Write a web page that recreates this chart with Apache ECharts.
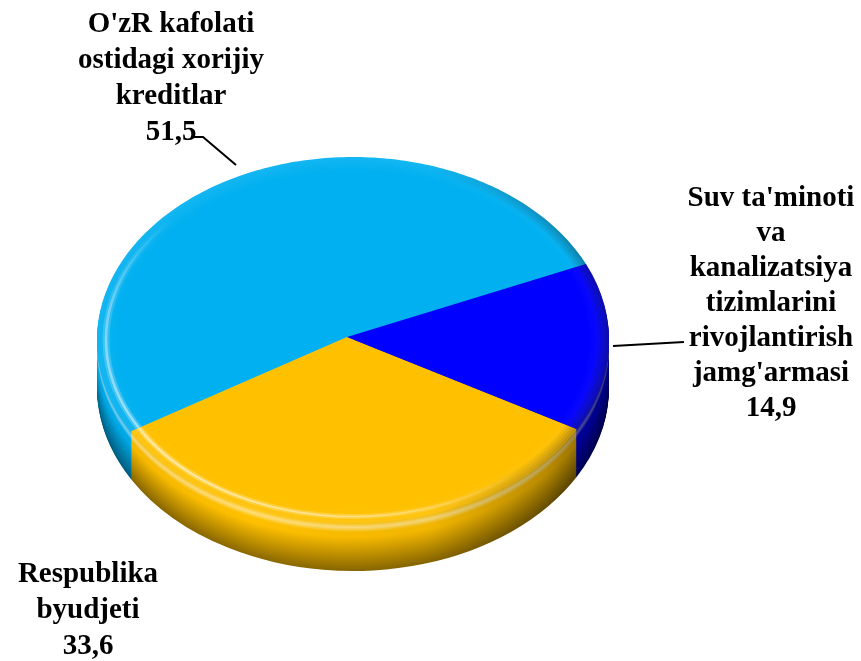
<!DOCTYPE html>
<html>
<head>
<meta charset="utf-8">
<script src="https://cdn.jsdelivr.net/npm/echarts@6/dist/echarts.min.js"></script>
<style>
html, body { margin: 0; padding: 0; background: #fff; }
#chart { width: 861px; height: 661px; }
</style>
</head>
<body>
<div id="chart"></div>
<script>
// slices, counter-clockwise from startAngle
const names = [
    "O'zR kafolati\nostidagi xorijiy\nkreditlar",
    "Respublika\nbyudjeti",
    "Suv ta'minoti\nva\nkanalizatsiya\ntizimlarini\nrivojlantirish\njamg'armasi"
];
const values = [51.5, 33.6, 14.9];
const colors = ['#00B0F0', '#FFC000', '#0000FF'];

// tilted pie: top face ellipse + extruded side
const cx = 353, cy = 340, rx = 256, ry = 183, depth = 48;
const apex = [347, 337];   // where the slices meet (perspective puts it off centre)
const startAngle = 24.5;   // degrees, counter-clockwise from 3 o'clock
const D = Math.PI / 180;
const SY = ry / rx;

// label blocks (centre x, top y, line height) and their leader lines
const labelPos = [
    { x: 171, y: 7,   lh: 36, leader: [[192, 137], [203, 137], [236, 165]] },
    { x: 88,  y: 557, lh: 36, leader: null },
    { x: 771, y: 181, lh: 35, leader: [[613, 346], [684, 342]] }
];
const FONT = 'bold 29px "Liberation Serif", "Times New Roman", serif';

const total = values.reduce((a, b) => a + b, 0);

function sliceRange(i) {
    let before = 0;
    for (let j = 0; j < i; j++) before += values[j];
    const s = startAngle + 360 * before / total;
    return [s, s + 360 * values[i] / total];
}

function rgb(hex) {
    const n = parseInt(hex.slice(1), 16);
    return [(n >> 16) & 255, (n >> 8) & 255, n & 255];
}
function mix(c, t, k) { return c.map((v, i) => v + (t[i] - v) * k); }
function scale(c, k) { return c.map(v => v * k); }
function css(c) { return 'rgb(' + c.map(v => Math.round(Math.max(0, Math.min(255, v)))).join(',') + ')'; }
const WHITE = [255, 255, 255];

// rounded rim: highlight near the top edge, darker towards the bottom
function profile(base, t) {
    const hl = Math.max(0, 1 - Math.abs(t - 0.1) / 0.1) * 0.5;
    const c = mix(base, WHITE, hl);
    const dk = t < 0.3 ? 1 : 1 - (t - 0.3) / 0.7 * 0.45;
    return scale(c, dk);
}

// horizontal shading, in the sector's local (unscaled) coordinates
function sideFill(base, t) {
    const c = profile(base, t);
    return {
        type: 'linear', x: -rx, y: 0, x2: rx, y2: 0, global: true,
        colorStops: [
            { offset: 0, color: css(scale(c, 0.95)) },
            { offset: 0.3, color: css(c) },
            { offset: 0.65, color: css(scale(c, 0.95)) },
            { offset: 0.88, color: css(scale(c, 0.72)) },
            { offset: 1, color: css(scale(c, 0.5)) }
        ]
    };
}

function sectorShape(s, e) {
    return { cx: 0, cy: 0, r0: 0, r: rx, startAngle: -e * D, endAngle: -s * D, clockwise: true };
}

function renderSide(params, api) {
    const i = params.dataIndex;
    const [s, e] = sliceRange(i);
    const base = rgb(colors[i]);
    const children = [];
    for (let k = depth; k >= 1; k--) {
        children.push({
            type: 'group', x: cx, y: cy + k, scaleY: SY,
            children: [{
                type: 'sector', z2: depth - k,
                shape: sectorShape(s, e),
                style: { fill: sideFill(base, k / depth) }
            }]
        });
    }
    return { type: 'group', children };
}

function rimArc(s, e, r, w, grad) {
    return {
        type: 'arc',
        shape: { cx: 0, cy: 0, r, startAngle: -e * D, endAngle: -s * D, clockwise: true },
        style: { fill: null, lineWidth: w, lineCap: 'butt', stroke: grad }
    };
}

// light from the lower left, fading towards the upper right
function lightGrad(a) {
    return {
        type: 'linear', x: -rx * 0.7, y: rx * 0.7, x2: rx * 0.2, y2: -rx * 0.2, global: true,
        colorStops: [
            { offset: 0, color: 'rgba(255,255,255,' + a + ')' },
            { offset: 0.35, color: 'rgba(255,255,255,' + (a * 0.6) + ')' },
            { offset: 0.75, color: 'rgba(255,255,255,0)' },
            { offset: 1, color: 'rgba(255,255,255,0)' }
        ]
    };
}
function shadeGrad(a) {
    return {
        type: 'linear', x: -rx, y: 0, x2: rx, y2: 0, global: true,
        colorStops: [
            { offset: 0, color: 'rgba(0,0,0,0)' },
            { offset: 0.65, color: 'rgba(0,0,0,0)' },
            { offset: 1, color: 'rgba(0,0,0,' + a + ')' }
        ]
    };
}

function renderTop(params, api) {
    const i = params.dataIndex;
    const [s, e] = sliceRange(i);
    const base = rgb(colors[i]);

    // top face in local (circle) coordinates, squashed by the group
    const pts = [[apex[0] - cx, (apex[1] - cy) / SY]];
    const n = Math.ceil(e - s);
    for (let j = 0; j <= n; j++) {
        const th = (s + (e - s) * j / n) * D;
        pts.push([rx * Math.cos(th), -rx * Math.sin(th)]);
    }
    const fill = {
        type: 'radial', x: 0, y: 0, r: rx, global: true,
        colorStops: [
            { offset: 0, color: css(base) },
            { offset: 0.92, color: css(base) },
            { offset: 1, color: css(mix(base, WHITE, 0.08)) }
        ]
    };
    const face = [{ type: 'polygon', shape: { points: pts }, style: { fill } }];
    // bevel: soft light line on the lower left, darker rim on the right
    face.push(rimArc(s, e, rx - 9, 7, lightGrad(0.25)));
    face.push(rimArc(s, e, rx - 9, 2.5, lightGrad(0.5)));
    for (let j = 0; j < 4; j++) {
        face.push(rimArc(s, e, rx - 1.5 - 3 * j, 3, shadeGrad(0.32 * (1 - j / 4))));
    }
    const children = [{ type: 'group', x: cx, y: cy, scaleY: SY, children: face }];

    const lp = labelPos[i];
    const txt = names[i] + '\n' + String(api.value(0)).replace('.', ',');
    children.push({
        type: 'text', x: lp.x, y: lp.y,
        style: {
            text: txt, align: 'center', verticalAlign: 'top',
            font: FONT, lineHeight: lp.lh, fill: '#000'
        }
    });
    if (lp.leader) {
        children.push({
            type: 'polyline', shape: { points: lp.leader },
            style: { stroke: '#000', lineWidth: 2, fill: null }
        });
    }
    return { type: 'group', children };
}

const data = values.map((v, i) => ({ name: names[i], value: v }));

const chart = echarts.init(document.getElementById('chart'), null, { renderer: 'canvas' });
chart.setOption({
    animation: false,
    series: [
        { type: 'custom', coordinateSystem: 'none', renderItem: renderSide, data, z: 1, silent: true },
        { type: 'custom', coordinateSystem: 'none', renderItem: renderTop, data, z: 2, silent: true }
    ]
});
</script>
</body>
</html>
